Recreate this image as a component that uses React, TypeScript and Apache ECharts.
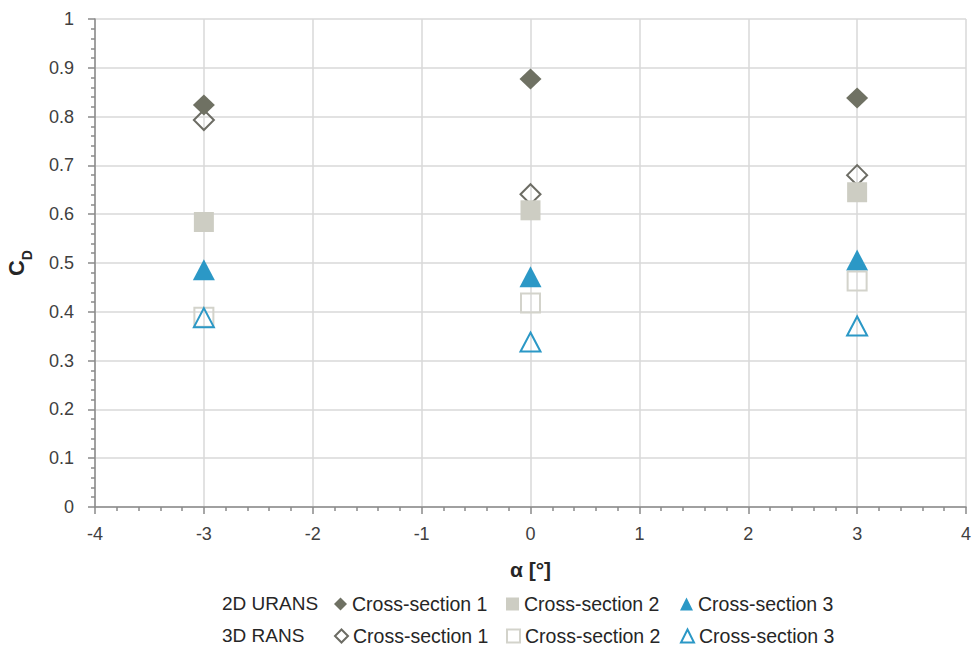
import React, { useEffect, useRef } from "react";
import * as echarts from "echarts";

const alphas = [-3, 0, 3];
const urans1 = [0.824, 0.877, 0.838];
const urans2 = [0.584, 0.608, 0.645];
const urans3 = [0.486, 0.472, 0.506];
const rans1 = [0.793, 0.641, 0.680];
const rans2 = [0.389, 0.418, 0.463];
const rans3 = [0.388, 0.338, 0.371];
const xTicks = [-4, -3, -2, -1, 0, 1, 2, 3, 4];
const yTicks = [0, 0.1, 0.2, 0.3, 0.4, 0.5, 0.6, 0.7, 0.8, 0.9, 1];
const legendLabels = ["Cross-section 1", "Cross-section 2", "Cross-section 3"];
const groupLabels = ["2D URANS", "3D RANS"];

const FONT = "Liberation Sans";
const pts = (ys: number[]) => alphas.map((a, i) => [a, ys[i]]);

export default function App() {
  const ref = useRef<HTMLDivElement>(null);
  useEffect(() => {
    const chart = echarts.init(ref.current!, null, { renderer: "svg" });
    const legendText = { fontFamily: FONT, fontSize: 19.5, color: "#262626" };
    const names2D = legendLabels.map((l) => "2D " + l);
    const names3D = legendLabels.map((l) => "3D " + l);
    const legendLeft = [334, 506, 680];
    const legends: any[] = [];
    [names2D, names3D].forEach((names, row) => {
      names.forEach((n, i) => {
        legends.push({
          data: [n],
          left: legendLeft[i],
          top: 594 + row * 32,
          itemWidth: 13,
          itemHeight: 13,
          itemGap: 0,
          padding: 0,
          textStyle: legendText,
          formatter: (s: string) => s.slice(3),
        });
      });
    });
    chart.setOption({
      animation: false,
      backgroundColor: "#ffffff",
      grid: { left: 95, right: 7, top: 19, bottom: 143, outerBoundsMode: "none", containLabel: false },
      xAxis: {
        type: "value",
        min: xTicks[0],
        max: xTicks[xTicks.length - 1],
        interval: 1,
        name: "α [°]",
        nameLocation: "middle",
        nameGap: 52,
        nameTextStyle: { fontFamily: FONT, fontSize: 21, fontWeight: "bold", color: "#262626" },
        axisLine: { onZero: false, lineStyle: { color: "#8a8a8a", width: 1.5 } },
        axisTick: { length: 7, lineStyle: { color: "#8a8a8a", width: 1.5 } },
        minorTick: { show: true, splitNumber: 5, length: 4, lineStyle: { color: "#8a8a8a", width: 1.5 } },
        axisLabel: { fontFamily: FONT, fontSize: 18, color: "#404040", margin: 18 },
        splitLine: { show: true, lineStyle: { color: "#d9d9d9", width: 1.5 } },
      },
      yAxis: {
        type: "value",
        min: yTicks[0],
        max: yTicks[yTicks.length - 1],
        interval: 0.1,
        name: "{c|C}{d|D}",
        nameLocation: "middle",
        nameGap: 68,
        nameRotate: 90,
        nameTextStyle: {
          rich: {
            c: { fontFamily: FONT, fontSize: 22, fontWeight: "bold", color: "#262626", verticalAlign: "bottom" },
            d: { fontFamily: FONT, fontSize: 14, fontWeight: "bold", color: "#262626", verticalAlign: "bottom", padding: [0, 0, -7, 0] },
          },
        },
        axisLine: { show: true, onZero: false, lineStyle: { color: "#8a8a8a", width: 1.5 } },
        axisTick: { show: true, length: 7, lineStyle: { color: "#8a8a8a", width: 1.5 } },
        minorTick: { show: true, splitNumber: 5, length: 4, lineStyle: { color: "#8a8a8a", width: 1.5 } },
        axisLabel: {
          fontFamily: FONT,
          fontSize: 18,
          color: "#404040",
          margin: 21,
          formatter: (v: number) => String(Math.round(v * 10) / 10),
        },
        splitLine: { show: true, lineStyle: { color: "#d9d9d9", width: 1.5 } },
      },
      legend: legends,
      graphic: groupLabels.map((t, row) => ({
        type: "text",
        left: 222,
        top: 594 + row * 32,
        style: { text: t, fontFamily: FONT, fontSize: 19, fill: "#262626" },
      })),
      series: [
        {
          name: names2D[0], type: "scatter", data: pts(urans1), symbol: "diamond", symbolSize: [22, 21], z: 3,
          itemStyle: { color: "#6f7163", opacity: 1 },
        },
        {
          name: names2D[1], type: "scatter", data: pts(urans2), symbol: "rect", symbolSize: 20,
          itemStyle: { color: "#cdcdc3", opacity: 1 },
        },
        {
          name: names2D[2], type: "scatter", data: pts(urans3), symbol: "triangle", symbolSize: [22, 21],
          itemStyle: { color: "#2b98c6", opacity: 1 },
        },
        {
          name: names3D[0], type: "scatter", data: pts(rans1), symbol: "diamond", symbolSize: [20, 20], z: 1,
          itemStyle: { color: "rgba(255,255,255,0)", borderColor: "#6c6c64", borderWidth: 2, opacity: 1 },
        },
        {
          name: names3D[1], type: "scatter", data: pts(rans2), symbol: "rect", symbolSize: 19,
          itemStyle: { color: "rgba(255,255,255,0)", borderColor: "#d3d3cb", borderWidth: 2, opacity: 1 },
        },
        {
          name: names3D[2], type: "scatter", data: pts(rans3), symbol: "triangle", symbolSize: [20, 19],
          itemStyle: { color: "rgba(255,255,255,0)", borderColor: "#2b98c6", borderWidth: 2, opacity: 1 },
        },
      ],
    });
    return () => chart.dispose();
  }, []);
  return <div ref={ref} style={{ width: 973, height: 650, position: "absolute", left: 0, top: 0 }} />;
}
